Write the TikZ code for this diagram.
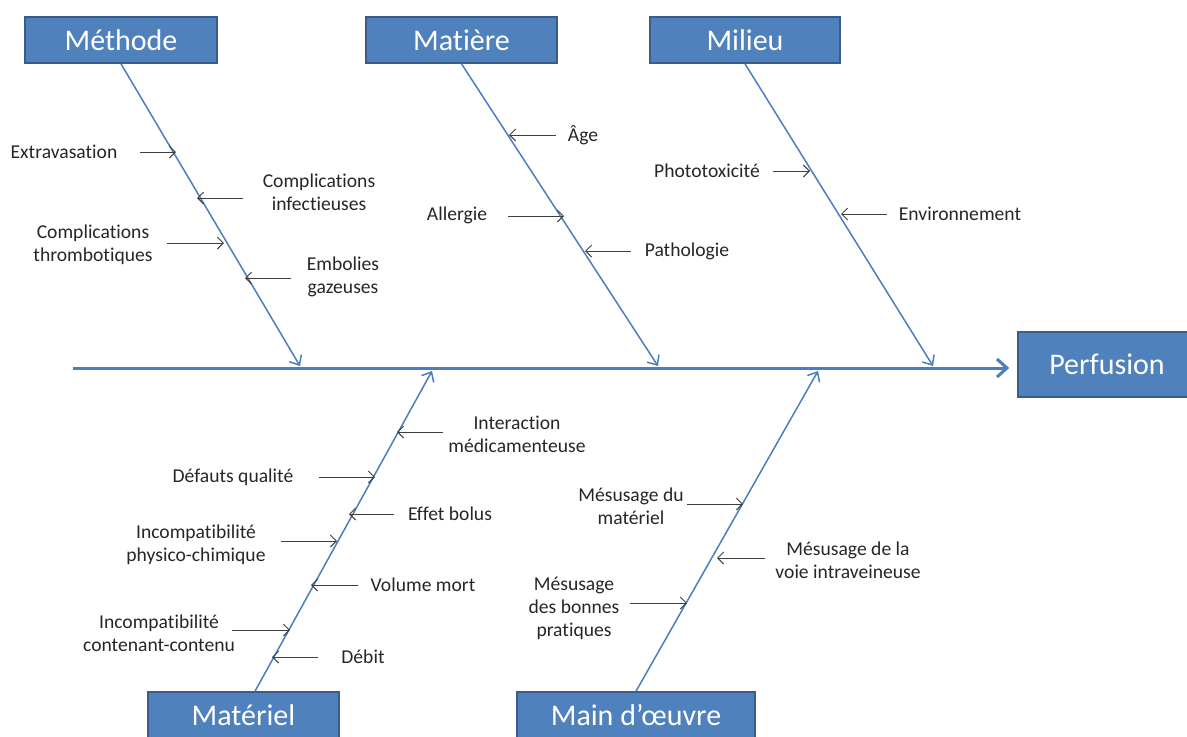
\documentclass[tikz,border=0pt]{standalone}
\usepackage{fontspec}
\setmainfont{Carlito}[Ligatures=NoCommon]
\usetikzlibrary{arrows.meta, calc, positioning}

\definecolor{boxblue}{HTML}{4F81BD}
\definecolor{boxedge}{HTML}{385D8A}
\definecolor{bonecol}{HTML}{4A7EBF}

\tikzset{
	cat/.style={draw=boxedge, line width=0.8pt, fill=boxblue, text=white, font=\fontsize{15}{18}\selectfont, minimum height=23pt, inner sep=0pt},
	lbl/.style={font=\fontsize{9.8}{11.5}\selectfont, align=center, inner sep=0pt, text=black!85},
	bone/.style={draw=bonecol, line width=0.75pt, -{Straight Barb[length=4pt,width=7pt]}},
	cause/.style={draw=black!75, line width=0.5pt, -{Straight Barb[length=3pt,width=6pt]}}
}

\begin{document}
\begin{tikzpicture}[x=0.5pt, y=-0.5pt]
	\useasboundingbox (0,0) rectangle (1187,736);
	
	% Categories
	\node[cat, minimum width=96pt] (meth) at (121,40) {Méthode};
	\node[cat, minimum width=95.5pt] (matiere) at (461.5,40) {Matière};
	\node[cat, minimum width=95pt] (milieu) at (745,40) {Milieu};
	\node[cat, minimum width=95.5pt] (materiel) at (243.5,715) {Matériel};
	\node[cat, minimum width=119pt] (mainoe) at (636,715) {Main d’œuvre};
	\node[cat, minimum width=86pt, minimum height=32.5pt] (perf) at (1104,364.5) {\hspace{3pt}Perfusion};
	
	% Spine
	\coordinate (tail) at (73,368);
	\draw[draw=bonecol, line width=1.5pt, -{Straight Barb[length=5pt,width=9pt]}] (tail) -- ([xshift=-4pt]perf.west |- tail);
	
	% Bones
	\coordinate (jmeth) at (300,366);
	\coordinate (jmatiere) at (658,366);
	\coordinate (jmilieu) at (933,366);
	\coordinate (jmateriel) at (432,371);
	\coordinate (jmainoe) at (818,371);
	\draw[bone] (meth.south) -- (jmeth);
	\draw[bone] (matiere.south) -- (jmatiere);
	\draw[bone] (milieu.south) -- (jmilieu);
	\draw[bone] ([xshift=5.75pt]materiel.north) -- (jmateriel);
	\draw[bone] (mainoe.north) -- (jmainoe);
	
	% Méthode
	\coordinate (c11) at (176,152);
	\coordinate (c12) at (197,198);
	\coordinate (c13) at (224,243);
	\coordinate (c14) at (245,278);
	\node[lbl] (t11) at (64,152) {Extravasation};
	\node[lbl] (t12) at (319,192) {Complications\\infectieuses};
	\node[lbl] (t13) at (93,245) {Complications\\thrombotiques};
	\node[lbl] (t14) at (343,277) {Embolies\\gazeuses};
	\draw[cause] ([xshift=11pt]t11.east |- c11) -- (c11);
	\draw[cause] ([xshift=-9.5pt]t12.west |- c12) -- (c12);
	\draw[cause] ([xshift=7pt]t13.east |- c13) -- (c13);
	\draw[cause] ([xshift=-7.5pt]t14.west |- c14) -- (c14);
	
	% Matière
	\coordinate (c21) at (509,135);
	\coordinate (c22) at (564,216);
	\coordinate (c23) at (585,251);
	\node[lbl] (t21) at (583,135) {Âge};
	\node[lbl] (t22) at (457,215) {Allergie};
	\node[lbl] (t23) at (687,251) {Pathologie};
	\draw[cause] ([xshift=-6pt]t21.west |- c21) -- (c21);
	\draw[cause] ([xshift=10.5pt]t22.east |- c22) -- (c22);
	\draw[cause] ([xshift=-6.5pt]t23.west |- c23) -- (c23);
	
	% Milieu
	\coordinate (c31) at (810,171);
	\coordinate (c32) at (841,214);
	\node[lbl] (t31) at (707,171) {Phototoxicité};
	\node[lbl] (t32) at (960,214) {Environnement};
	\draw[cause] ([xshift=6.5pt]t31.east |- c31) -- (c31);
	\draw[cause] ([xshift=-6pt]t32.west |- c32) -- (c32);
	
	% Matériel
	\coordinate (c41) at (397,432);
	\coordinate (c42) at (375,477);
	\coordinate (c43) at (349,514);
	\coordinate (c44) at (337,541);
	\coordinate (c45) at (311,585);
	\coordinate (c46) at (290,630);
	\coordinate (c47) at (272,657);
	\node[lbl] (t41) at (517,434) {Interaction\\médicamenteuse};
	\node[lbl] (t42) at (233,477) {Défauts qualité};
	\node[lbl] (t43) at (450,514) {Effet bolus};
	\node[lbl] (t44) at (196,544.5) {Incompatibilité\\physico-chimique};
	\node[lbl] (t45) at (423,585) {Volume mort};
	\node[lbl] (t46) at (159,633) {Incompatibilité\\contenant-contenu};
	\node[lbl] (t47) at (363,657) {Débit};
	\draw[cause] ([xshift=-2.5pt]t41.west |- c41) -- (c41);
	\draw[cause] ([xshift=12.5pt]t42.east |- c42) -- (c42);
	\draw[cause] ([xshift=-7pt]t43.west |- c43) -- (c43);
	\draw[cause] ([xshift=7.5pt]t44.east |- c44) -- (c44);
	\draw[cause] ([xshift=-6pt]t45.west |- c45) -- (c45);
	\draw[cause] ([xshift=-1.5pt]t46.east |- c46) -- (c46);
	\draw[cause] ([xshift=-11.5pt]t47.west |- c47) -- (c47);
	
	% Main d'oeuvre
	\coordinate (c51) at (743,504);
	\coordinate (c52) at (717,558);
	\coordinate (c53) at (687,603);
	\node[lbl] (t51) at (631,506.5) {Mésusage du\\matériel};
	\node[lbl] (t52) at (848,560.5) {Mésusage de la\\voie intraveineuse};
	\node[lbl] (t53) at (574,608) {Mésusage\\des bonnes\\pratiques};
	\draw[cause] ([xshift=1.5pt]t51.east |- c51) -- (c51);
	\draw[cause] ([xshift=-5pt]t52.west |- c52) -- (c52);
	\draw[cause] ([xshift=5pt]t53.east |- c53) -- (c53);
\end{tikzpicture}
\end{document}
